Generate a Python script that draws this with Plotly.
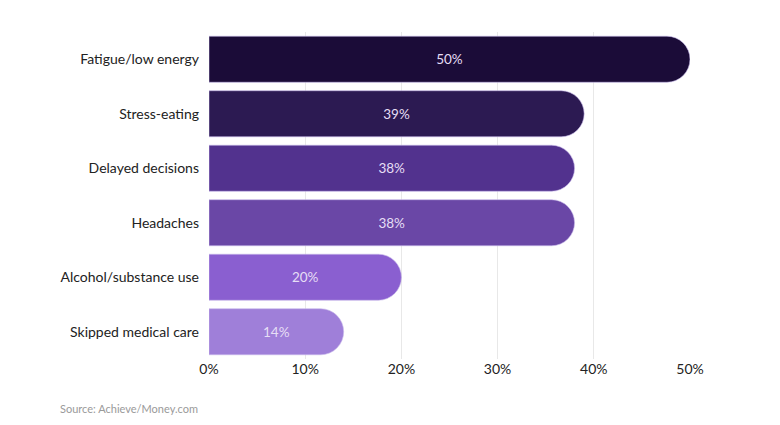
import plotly.graph_objects as go

categories = ["Fatigue/low energy", "Stress-eating", "Delayed decisions",
              "Headaches", "Alcohol/substance use", "Skipped medical care"]
values = [50, 39, 38, 38, 20, 14]
bar_colors = ["#1b0c38", "#2c1a52", "#52328e", "#6a47a6", "#8a5fd0", "#9f7fd9"]
tick_vals = [0, 10, 20, 30, 40, 50]
tick_text = ["0%", "10%", "20%", "30%", "40%", "50%"]
source = "Source: Achieve/Money.com"

FONT = "Lato, Inter, 'Open Sans', sans-serif"

# page body has an 8px default margin, so offsets below account for it
W, H = 780, 425
ML, MR, MT, MB = 201, 98, 24, 74

fig = go.Figure(go.Bar(
    y=categories,
    x=values,
    orientation="h",
    marker=dict(color=bar_colors, cornerradius="50%",
                line=dict(color="rgba(200,185,235,0.6)", width=1)),
    text=[f"{v}%" for v in values],
    textposition="inside",
    insidetextanchor="middle",
    textfont=dict(color="#e6def5", size=13.5, family=FONT),
    hoverinfo="skip",
))

pw = W - ML - MR
ph = H - MT - MB

fig.update_layout(
    width=W, height=H,
    margin=dict(l=ML, r=MR, t=MT, b=MB),
    paper_bgcolor="white", plot_bgcolor="white",
    bargap=0.155,
    showlegend=False,
    font=dict(family=FONT, color="#222222", size=14),
    xaxis=dict(range=[0, 50], tickvals=tick_vals, ticktext=tick_text,
               showgrid=True, gridcolor="#e8e8e8", gridwidth=1,
               zeroline=False, showline=False, ticks="",
               tickfont=dict(size=14, color="#222222"), ticklabelstandoff=0),
    yaxis=dict(autorange="reversed", showgrid=False, zeroline=False,
               showline=False, ticks="", ticklabelstandoff=9,
               tickfont=dict(size=14, color="#222222")),
    annotations=[dict(text=source,
                      x=(58 - 8 - ML) / pw, y=(H - MB - (408 - 8)) / ph,
                      xref="paper", yref="paper", showarrow=False,
                      xanchor="left", yanchor="middle",
                      font=dict(size=11, color="#9a9a9a", family=FONT))],
)

fig.write_html("out.html")
